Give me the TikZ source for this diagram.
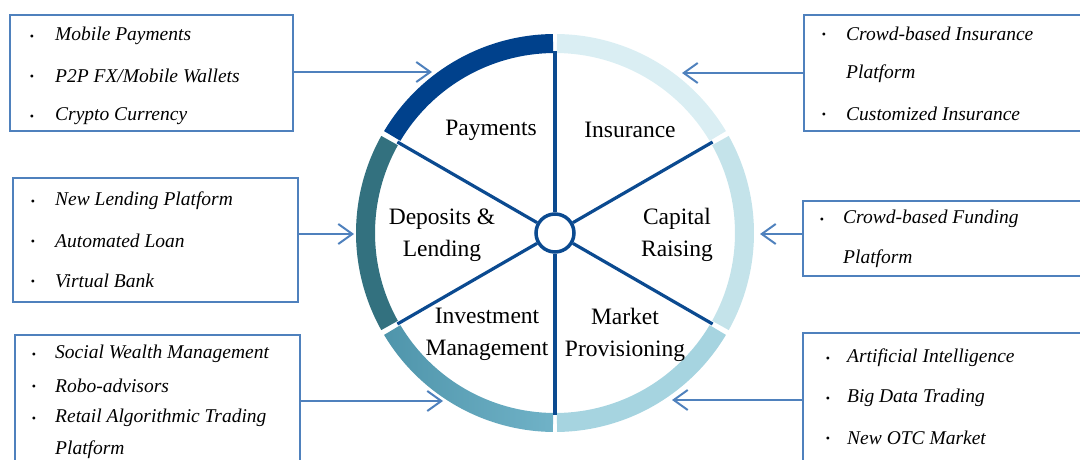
\documentclass[tikz,border=0pt]{standalone}
\usepackage{fontspec}
\setmainfont{Liberation Serif}
\usetikzlibrary{arrows.meta}
\definecolor{ringA}{HTML}{00418C}
\definecolor{ringB}{HTML}{33717F}
\definecolor{ringCa}{HTML}{4F95AB}
\definecolor{ringCb}{HTML}{70B2C7}
\definecolor{ringD}{HTML}{A6D4E0}
\definecolor{ringE}{HTML}{C4E3EA}
\definecolor{ringF}{HTML}{DAEEF3}
\definecolor{spokec}{HTML}{0B4A90}
\definecolor{boxc}{HTML}{4F81BD}
\begin{document}
\begin{tikzpicture}[x=1pt,y=-1pt,
  boxnode/.style={draw=boxc, line width=2pt, fill=white, inner sep=0pt, rectangle},
  arr/.style={draw=boxc, line width=2pt, -{Straight Barb[length=14pt,width=20pt,line width=2pt]}},
  itemtxt/.style={anchor=west, inner sep=0pt, yshift=-1pt, font=\fontsize{19.5}{23}\selectfont\itshape},
  bul/.style={anchor=center, inner sep=0pt, yshift=-3pt, font=\fontsize{12}{14}\selectfont},
  wlabel/.style={align=center, inner sep=0pt, font=\fontsize{23.5}{32}\selectfont},
  spoke/.style={draw=spokec, line width=3.2pt}]
\useasboundingbox (0,0) rectangle (1080,460);
\clip (0,0) rectangle (1080,460);

% ---------- wheel ----------
\begin{scope}[shift={(555pt,-233pt)}, x=1pt, y=1pt]
  \def\ri{180}\def\ro{199}
  \fill[ringF] (30.8:\ro) arc[start angle=30.8,end angle=89.4,radius=\ro] -- (89.4:\ri) arc[start angle=89.4,end angle=30.8,radius=\ri] -- cycle;
  \fill[ringA] (90.6:\ro) arc[start angle=90.6,end angle=149.2,radius=\ro] -- (149.2:\ri) arc[start angle=149.2,end angle=90.6,radius=\ri] -- cycle;
  \fill[ringB] (150.8:\ro) arc[start angle=150.8,end angle=209.2,radius=\ro] -- (209.2:\ri) arc[start angle=209.2,end angle=150.8,radius=\ri] -- cycle;
  \path[left color=ringCa, right color=ringCb] (210.8:\ro) arc[start angle=210.8,end angle=269.4,radius=\ro] -- (269.4:\ri) arc[start angle=269.4,end angle=210.8,radius=\ri] -- cycle;
  \fill[ringD] (270.6:\ro) arc[start angle=270.6,end angle=329.2,radius=\ro] -- (329.2:\ri) arc[start angle=329.2,end angle=270.6,radius=\ri] -- cycle;
  \fill[ringE] (330.8:\ro) arc[start angle=330.8,end angle=389.2,radius=\ro] -- (389.2:\ri) arc[start angle=389.2,end angle=330.8,radius=\ri] -- cycle;
  \node[circle, draw=spokec, line width=3.5pt, fill=white, minimum size=38pt, inner sep=0pt] (hub) at (0,0) {};
  \foreach \a in {30,90,150,210,270,330}{
    \coordinate (rim\a) at (\a:182);
    \draw[spoke] (hub.\a) -- (rim\a);
  }
\end{scope}

% ---------- wheel labels ----------
\node[wlabel] (lpay) at (491,130) {Payments};
\node[wlabel] (lins) at (630,130) {Insurance};
\node[wlabel] (ldep) at (442,235) {Deposits \&\\Lending};
\node[wlabel] (lcap) at (677,235) {Capital\\Raising};
\node[wlabel] (linv) at (487,334) {Investment\\Management};
\node[wlabel] (lmar) at (625,335) {Market\\Provisioning};

% ---------- boxes ----------
\node[boxnode, minimum width=283pt, minimum height=116pt] (b1) at (151.5,73) {};
\node[boxnode, minimum width=286pt, minimum height=116pt] (b2) at (947,73) {};
\node[boxnode, minimum width=285pt, minimum height=124pt] (b3) at (155.5,240) {};
\node[boxnode, minimum width=287pt, minimum height=75pt] (b4) at (946.5,238.5) {};
\node[boxnode, minimum width=285pt, minimum height=135pt] (b5) at (157.5,402.5) {};
\node[boxnode, minimum width=287pt, minimum height=137pt] (b6) at (946.5,401.5) {};

% ---------- arrows ----------
\coordinate (a1) at (432,72);
\coordinate (a2) at (682,73);
\coordinate (a3) at (354,234);
\coordinate (a4) at (760,234);
\coordinate (a5) at (443,401);
\coordinate (a6) at (672,400);
\draw[arr] (a1 -| b1.east) -- (a1);
\draw[arr] (a2 -| b2.west) -- (a2);
\draw[arr] (a3 -| b3.east) -- (a3);
\draw[arr] (a4 -| b4.west) -- (a4);
\draw[arr] (a5 -| b5.east) -- (a5);
\draw[arr] (a6 -| b6.west) -- (a6);

% ---------- box texts ----------
% box 1
\node[bul] (u11) at (32,35) {•};
\node[itemtxt] (t11) at (55,35) {Mobile Payments};
\node[bul] (u12) at (32,75) {•};
\node[itemtxt] (t12) at (55,75) {P2P FX/Mobile Wallets};
\node[bul] (u13) at (32,115) {•};
\node[itemtxt] (t13) at (55,115) {Crypto Currency};
% box 2
\node[bul] (u21) at (824,33) {•};
\node[itemtxt] (t21) at (846,33) {Crowd-based Insurance};
\node[itemtxt] (t22) at (846,73) {Platform};
\node[bul] (u23) at (824,113) {•};
\node[itemtxt] (t23) at (846,113) {Customized Insurance};
% box 3
\node[bul] (u31) at (33,200) {•};
\node[itemtxt] (t31) at (55,200) {New Lending Platform};
\node[bul] (u32) at (33,240) {•};
\node[itemtxt] (t32) at (55,240) {Automated Loan};
\node[bul] (u33) at (33,280) {•};
\node[itemtxt] (t33) at (55,280) {Virtual Bank};
% box 4
\node[bul] (u41) at (822,218) {•};
\node[itemtxt] (t41) at (843,218) {Crowd-based Funding};
\node[itemtxt] (t42) at (843,258) {Platform};
% box 5
\node[bul] (u51) at (34,353) {•};
\node[itemtxt] (t51) at (55,353) {Social Wealth Management};
\node[bul] (u52) at (34,385) {•};
\node[itemtxt] (t52) at (55,385) {Robo-advisors};
\node[bul] (u53) at (34,417) {•};
\node[itemtxt] (t53) at (55,417) {Retail Algorithmic Trading};
\node[itemtxt] (t54) at (55,449) {Platform};
% box 6
\node[bul] (u61) at (828,357) {•};
\node[itemtxt] (t61) at (847,357) {Artificial Intelligence};
\node[bul] (u62) at (828,397) {•};
\node[itemtxt] (t62) at (847,397) {Big Data Trading};
\node[bul] (u63) at (828,437) {•};
\node[itemtxt] (t63) at (847,437) {New OTC Market};
\end{tikzpicture}
\end{document}
